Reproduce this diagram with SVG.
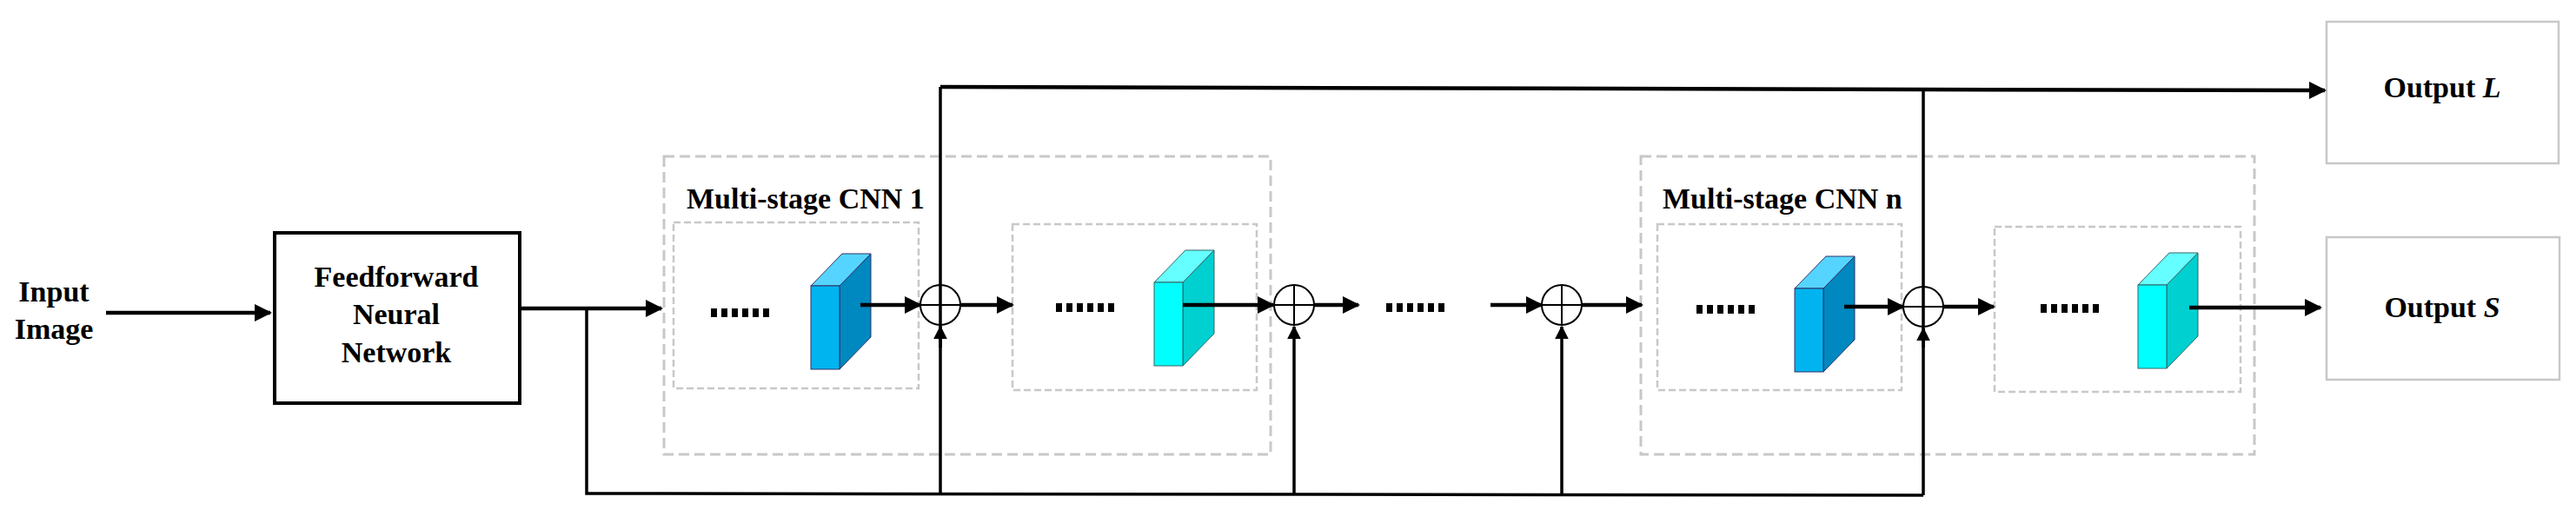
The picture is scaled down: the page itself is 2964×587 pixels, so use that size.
<svg xmlns="http://www.w3.org/2000/svg" width="2964" height="587" viewBox="0 0 2964 587">
<style>
.t{font-family:"Liberation Serif","Times New Roman",serif;font-weight:bold;font-size:34px;fill:#000}
.ln{stroke:#000;stroke-width:4.5;fill:none}
.vl{stroke:#000;stroke-width:3.5;fill:none}
.db{stroke:#c8c8c8;stroke-width:3;stroke-dasharray:12 6;fill:none}
.di{stroke:#c8c8c8;stroke-width:2.5;stroke-dasharray:8 4;fill:none}
.sum{fill:none;stroke:#000;stroke-width:2}
.dots{stroke:#000;stroke-width:10;stroke-dasharray:7 5}
</style>
<defs>
<marker id="ah" viewBox="0 0 10 10" refX="9" refY="5" markerWidth="4.5" markerHeight="4.5" orient="auto" markerUnits="strokeWidth"><path d="M0,0 L10,5 L0,10 z" fill="#000"/></marker>
<g id="blue">
<polygon points="33,37 69,0 69,96 33,133" fill="#0088c0" stroke="#336" stroke-width="1"/>
<polygon points="0,37 36,0 69,0 33,37" fill="#55d4ff" stroke="#336" stroke-width="1"/>
<rect x="0" y="37" width="33" height="96" fill="#00b4f0" stroke="#336" stroke-width="1"/>
</g>
<g id="cyan">
<polygon points="33,37 69,0 69,96 33,133" fill="#00d0d0" stroke="#366" stroke-width="1"/>
<polygon points="0,37 36,0 69,0 33,37" fill="#66ffff" stroke="#366" stroke-width="1"/>
<rect x="0" y="37" width="33" height="96" fill="#00ffff" stroke="#366" stroke-width="1"/>
</g>
</defs>
<g id="input"><text class="t" x="62" y="347" text-anchor="middle">Input</text><text class="t" x="62" y="390" text-anchor="middle">Image</text></g>
<g id="ffn"><rect x="316" y="268" width="282" height="196" fill="#fff" stroke="#000" stroke-width="4"/>
<text class="t" x="456" y="330" text-anchor="middle">Feedforward</text>
<text class="t" x="456" y="373" text-anchor="middle">Neural</text>
<text class="t" x="456" y="417" text-anchor="middle">Network</text></g>
<g id="cnn1">
<rect class="db" x="764" y="180" width="698" height="343"/>
<text class="t" x="790" y="240">Multi-stage CNN 1</text>
<rect class="di" x="775" y="256" width="282" height="191"/>
<rect class="di" x="1165" y="258" width="281" height="191"/>
<line class="dots" x1="818" y1="360" x2="885" y2="360"/>
<line class="dots" x1="1215" y1="354" x2="1282" y2="354"/>
<use href="#blue" x="933" y="292"/>
<use href="#cyan" x="1328" y="288"/>
</g>
<g id="cnnn">
<rect class="db" x="1888" y="180" width="706" height="343"/>
<text class="t" x="1913" y="240">Multi-stage CNN n</text>
<rect class="di" x="1907" y="258" width="281" height="191"/>
<rect class="di" x="2295" y="261" width="283" height="190"/>
<line class="dots" x1="1952" y1="356" x2="2019" y2="356"/>
<line class="dots" x1="2348" y1="355" x2="2415" y2="355"/>
<use href="#blue" x="2065" y="295"/>
<use href="#cyan" x="2460" y="291"/>
</g>
<g id="midDots"><line class="dots" x1="1595" y1="354" x2="1662" y2="354"/></g>
<g id="outL"><rect x="2677" y="25" width="267" height="163" fill="#fff" stroke="#c8c8c8" stroke-width="2.5"/><text class="t" x="2810" y="112" text-anchor="middle">Output <tspan font-style="italic">L</tspan></text></g>
<g id="outS"><rect x="2677" y="273" width="268" height="164" fill="#fff" stroke="#c8c8c8" stroke-width="2.5"/><text class="t" x="2810" y="365" text-anchor="middle">Output <tspan font-style="italic">S</tspan></text></g>
<g id="connectors">
<line class="ln" x1="122" y1="360" x2="311" y2="360" marker-end="url(#ah)"/>
<line class="ln" x1="598" y1="355" x2="761" y2="355" marker-end="url(#ah)"/>
<polyline class="vl" points="675,355 675,568 2213,570"/>
<line class="ln" x1="990" y1="351" x2="1059" y2="351" marker-end="url(#ah)"/>
<line class="ln" x1="1105" y1="351" x2="1165" y2="351" marker-end="url(#ah)"/>
<line class="ln" x1="1361" y1="351" x2="1465" y2="351" marker-end="url(#ah)"/>
<line class="ln" x1="1512" y1="351" x2="1563" y2="351" marker-end="url(#ah)"/>
<line class="ln" x1="1715" y1="351" x2="1774" y2="351" marker-end="url(#ah)"/>
<line class="ln" x1="1820" y1="351" x2="1889" y2="351" marker-end="url(#ah)"/>
<line class="ln" x1="2122" y1="353" x2="2190" y2="353" marker-end="url(#ah)"/>
<line class="ln" x1="2236" y1="353" x2="2294" y2="353" marker-end="url(#ah)"/>
<line class="ln" x1="2519" y1="354" x2="2670" y2="354" marker-end="url(#ah)"/>
<polyline class="ln" points="1082,100 2213,103 2675,104" marker-end="url(#ah)"/>
<line class="vl" x1="1082" y1="100" x2="1082" y2="568"/>
<line class="vl" x1="2213" y1="103" x2="2213" y2="570"/>
<line class="vl" x1="1489" y1="569" x2="1489" y2="376" marker-end="url(#ah)"/>
<line class="vl" x1="1797" y1="569" x2="1797" y2="376" marker-end="url(#ah)"/>
<line class="vl" x1="1082" y1="400" x2="1082" y2="376" marker-end="url(#ah)"/>
<line class="vl" x1="2213" y1="400" x2="2213" y2="378" marker-end="url(#ah)"/>
</g>
<g id="sums">
<g><circle class="sum" cx="1082" cy="351" r="23"/><path d="M1059,351 H1105 M1082,328 V374" stroke="#000" stroke-width="2"/></g>
<g><circle class="sum" cx="1489" cy="351" r="23"/><path d="M1466,351 H1512 M1489,328 V374" stroke="#000" stroke-width="2"/></g>
<g><circle class="sum" cx="1797" cy="351" r="23"/><path d="M1774,351 H1820 M1797,328 V374" stroke="#000" stroke-width="2"/></g>
<g><circle class="sum" cx="2213" cy="353" r="23"/><path d="M2190,353 H2236 M2213,330 V376" stroke="#000" stroke-width="2"/></g>
</g>
</svg>
